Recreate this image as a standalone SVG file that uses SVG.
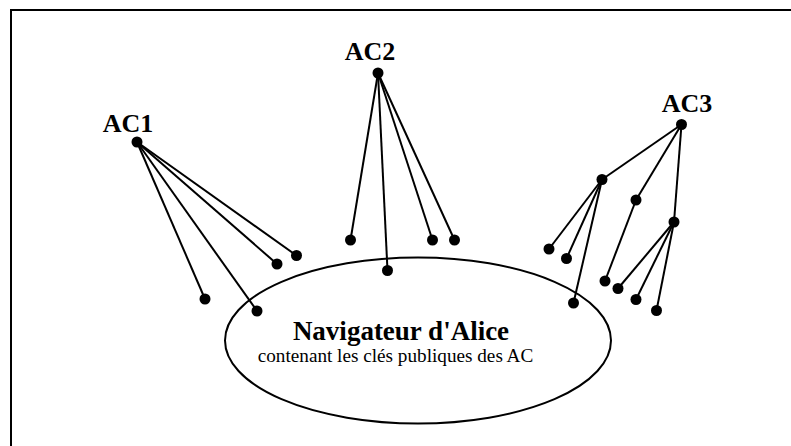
<svg xmlns="http://www.w3.org/2000/svg" width="791" height="446" viewBox="0 0 791 446">
<style>
.frame{fill:none;stroke:#000;stroke-width:2}
.edge{stroke:#000;stroke-width:2;fill:none}
.dot{fill:#000}
.lbl{font-family:"Liberation Serif","Times New Roman",serif;font-weight:bold;font-size:26px;fill:#000;text-anchor:middle}
.big{font-size:27px}
.sub{font-family:"Liberation Serif","Times New Roman",serif;font-size:19.2px;fill:#000;text-anchor:middle}
.oval{fill:#fff;stroke:#000;stroke-width:2}
</style>
<rect width="791" height="446" fill="#fff"/>
<path class="frame" d="M11,446 V10 H791"/>
<g id="navigateur">
<ellipse class="oval" cx="418" cy="340.5" rx="193" ry="83"/>
<text class="lbl big" x="401" y="340">Navigateur d'Alice</text>
<text class="sub" x="395.5" y="361.5">contenant les clés publiques des AC</text>
</g>
<g id="connectors">
<line class="edge" x1="137" y1="142" x2="205" y2="299"/>
<line class="edge" x1="137" y1="142" x2="257" y2="311"/>
<line class="edge" x1="137" y1="142" x2="277" y2="264"/>
<line class="edge" x1="137" y1="142" x2="296.5" y2="255.5"/>
<line class="edge" x1="378" y1="73" x2="350.5" y2="240"/>
<line class="edge" x1="378" y1="73" x2="387.5" y2="270.5"/>
<line class="edge" x1="378" y1="73" x2="432.5" y2="240"/>
<line class="edge" x1="378" y1="73" x2="454.5" y2="240"/>
<line class="edge" x1="681.5" y1="124.5" x2="602" y2="179.5"/>
<line class="edge" x1="681.5" y1="124.5" x2="636" y2="200"/>
<line class="edge" x1="681.5" y1="124.5" x2="674" y2="222"/>
<line class="edge" x1="602" y1="179.5" x2="549" y2="249"/>
<line class="edge" x1="602" y1="179.5" x2="566.5" y2="258.5"/>
<line class="edge" x1="602" y1="179.5" x2="573.5" y2="303"/>
<line class="edge" x1="636" y1="200" x2="605" y2="281"/>
<line class="edge" x1="674" y1="222" x2="618" y2="288.5"/>
<line class="edge" x1="674" y1="222" x2="636" y2="299.5"/>
<line class="edge" x1="674" y1="222" x2="656.5" y2="310.5"/>
</g>
<g id="AC1">
<text class="lbl" x="128" y="132">AC1</text>
<circle class="dot" cx="137" cy="142" r="5.5"/>
<circle class="dot" cx="205" cy="299" r="5.5"/>
<circle class="dot" cx="257" cy="311" r="5.5"/>
<circle class="dot" cx="277" cy="264" r="5.5"/>
<circle class="dot" cx="296.5" cy="255.5" r="5.5"/>
</g>
<g id="AC2">
<text class="lbl" x="370" y="59.5">AC2</text>
<circle class="dot" cx="378" cy="73" r="5.5"/>
<circle class="dot" cx="350.5" cy="240" r="5.5"/>
<circle class="dot" cx="387.5" cy="270.5" r="5.5"/>
<circle class="dot" cx="432.5" cy="240" r="5.5"/>
<circle class="dot" cx="454.5" cy="240" r="5.5"/>
</g>
<g id="AC3">
<text class="lbl" x="687" y="112">AC3</text>
<circle class="dot" cx="681.5" cy="124.5" r="5.5"/>
<circle class="dot" cx="602" cy="179.5" r="5.5"/>
<circle class="dot" cx="636" cy="200" r="5.5"/>
<circle class="dot" cx="674" cy="222" r="5.5"/>
<circle class="dot" cx="549" cy="249" r="5.5"/>
<circle class="dot" cx="566.5" cy="258.5" r="5.5"/>
<circle class="dot" cx="573.5" cy="303" r="5.5"/>
<circle class="dot" cx="605" cy="281" r="5.5"/>
<circle class="dot" cx="618" cy="288.5" r="5.5"/>
<circle class="dot" cx="636" cy="299.5" r="5.5"/>
<circle class="dot" cx="656.5" cy="310.5" r="5.5"/>
</g>
</svg>
